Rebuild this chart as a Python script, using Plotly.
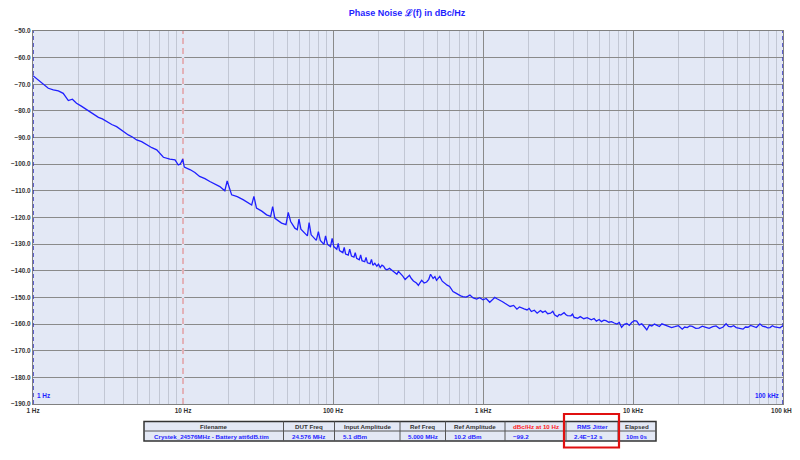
import plotly.graph_objects as go

# ---------------- data ----------------
freq_hz = [
    1.00, 1.085, 1.17, 1.265, 1.366, 1.475, 1.59, 1.72, 1.83, 1.95, 2.1, 2.28, 2.5, 2.73, 2.9, 3.10, 3.35, 3.61,
    3.95, 4.32, 4.6, 4.91, 5.3, 5.73, 6.2, 6.68, 7.0, 7.4, 8.17, 8.85, 9.3, 9.6, 9.96, 10.2, 11.2, 12.0, 12.9, 14.0, 15.1,
    16.3, 17.6, 19.0, 19.7, 21.1, 23.0, 25.3, 27.0, 28.7, 29.7, 30.9, 33.5, 36.1, 38.4, 39.6, 41.0, 45.4, 48.6,
    50.3, 52.2, 55.7, 57.8, 59.3, 61.1, 66.1, 67.5, 69.3, 71.5, 76.0, 77.4, 79.9, 82.3,
    87.0, 89.2, 91.9, 96.2, 98.7, 101.2, 106, 108.4, 110.5, 116.3, 118.8, 121.3, 126.4,
    129.2, 132.8, 137.9, 140.7, 143.8, 149.7, 152.9, 156.1, 162.7, 166.1, 169.6, 176.8,
    180.5, 184.3, 190, 196.0, 201, 206.5, 212, 217.4, 223, 228.8, 238, 247, 257, 266.6, 273, 280.6, 292,
    302.6, 312, 323.4, 333, 343.7, 360, 371, 380, 390, 405, 421, 435, 447, 465, 478, 490, 503, 515, 535, 555, 577,
    599, 631, 655, 680, 710, 735, 770, 795, 818, 860, 908, 950, 1000, 1050, 1109, 1150, 1197, 1240, 1292, 1350,
    1400, 1460, 1517, 1600, 1683, 1750, 1800, 1880, 1967, 2030, 2100, 2200, 2296, 2416, 2500, 2600, 2700, 2821,
    2920, 3000, 3130, 3220, 3300, 3470, 3560, 3650, 3854, 3950, 4050, 4276, 4450, 4700, 4950, 5275, 5500, 5700,
    5950, 6158, 6400, 6600, 6900, 7189, 7500, 7800, 8100, 8393, 8750, 9100, 9450, 9798, 10200, 10590, 11000,
    11440, 11900, 12360, 12850, 13350, 13900, 14400, 15000, 15580, 16400, 17290, 18100, 19000, 20100, 21300, 22100,
    23000, 23900, 24860, 26200, 27500, 29000, 30610, 32200, 34000, 35800, 37730, 39700, 41750, 43300, 45000,
    46900, 48780, 51400, 54120, 56200, 58500, 60800, 63230, 66500, 70140, 73000, 76000, 79000, 81900, 85000,
    88000, 91800, 95600, 98000, 100000,
]
phase_noise_dbc = [
    -66.8, -68.4, -69.9, -71.5, -72.1, -72.5, -73.4, -76.1, -75.6, -77.1, -78.2, -79.6, -80.9, -82.4, -83.0, -84.0, -85.1, -85.9,
    -87.6, -89.0, -89.8, -90.9, -91.5, -92.8, -93.8, -94.6, -95.8, -97.4, -98.1, -98.4, -100.3, -99.9, -98.1, -101.1, -102.1, -103.1, -104.6, -105.4, -106.5,
    -107.5, -108.4, -110.0, -106.3, -111.5, -112.2, -113.4, -114.5, -115.3, -112.1, -116.5, -117.6, -119.0, -119.6, -115.9, -120.3, -122.1, -122.7,
    -118.1, -121.5, -124.0, -124.6, -120.6, -124.4, -126.5, -126.9, -121.9, -126.5, -128.1, -128.6, -125.3, -128.6,
    -130.1, -126.9, -130.1, -130.9, -127.8, -130.9, -131.9, -129.7, -132.4, -133.2, -131.2, -133.7, -134.1,
    -131.9, -134.5, -134.9, -133.2, -135.3, -135.9, -134.0, -136.2, -136.6, -135.0, -137.0, -137.3,
    -135.7, -137.9, -137.2, -138.3, -137.5, -138.8, -137.9, -138.3, -139.3, -139.6, -139.1, -139.8, -140.6, -141.3, -140.2, -140.8, -142.0,
    -143.3, -142.4, -141.7, -142.9, -143.8, -144.6, -145.5, -144.5, -143.6, -144.6, -144.2, -143.2, -141.3, -142.9, -142.2, -143.6, -142.7, -142.1, -143.9, -144.8, -145.4,
    -145.9, -147.8, -148.3, -148.9, -149.4, -149.7, -149.9, -149.5, -149.1, -150.2, -150.6, -150.1, -150.9, -150.4, -151.8, -151.0, -150.0, -150.5, -150.9, -151.6,
    -152.2, -152.8, -153.4, -153.0, -154.4, -153.6, -154.0, -154.3, -154.7, -154.1, -155.3, -154.8, -155.9, -154.9, -155.6, -155.1, -156.1, -155.9,
    -155.2, -156.5, -157.2, -156.4, -156.6, -155.7, -156.4, -156.8, -156.9, -156.3, -157.5, -157.8, -157.2, -158.0, -157.6, -158.4, -157.9, -158.9,
    -158.3, -159.1, -158.5, -158.7, -159.3, -159.1, -159.6, -160.0, -159.4, -161.2, -160.1, -159.8, -160.5, -159.4, -158.7, -158.9, -160.3,
    -159.9, -161.0, -162.2, -160.4, -160.7, -160.0, -160.3, -160.9, -159.9, -160.4, -160.7, -161.3, -161.0, -160.6, -161.9, -161.1,
    -161.3, -160.7, -160.9, -161.6, -161.5, -160.8, -161.2, -161.6, -161.0, -160.7, -161.7, -161.2, -159.9, -160.9, -161.0,
    -160.6, -161.3, -161.6, -161.9, -161.1, -161.2, -160.5, -160.9, -161.3, -159.9, -160.8, -161.0, -161.4, -161.3, -160.6,
    -161.1, -161.4, -161.4, -160.9, -160.7,
]

x_tick_vals = [1, 10, 100, 1000, 10000, 100000]
x_tick_text = ["1 Hz", "10 Hz", "100 Hz", "1 kHz", "10 kHz", "100 kHz"]
y_ticks = [-50, -60, -70, -80, -90, -100, -110, -120, -130, -140, -150, -160, -170, -180, -190]

marker_10hz = [10, 10]
edge_start = [1, 1]
edge_stop = [100000, 100000]
marker_span = [-190, -50]

table_headers = ["Filename", "DUT Freq", "Input Amplitude", "Ref Freq", "Ref Amplitude",
                 "dBc/Hz at 10 Hz", "RMS Jitter", "Elapsed"]
table_values = ["Crystek_24576MHz - Battery att6dB.tim", "24.576 MHz", "5.1 dBm", "5.000 MHz",
                "10.2 dBm", "\u221299.2", "2.4E\u221212 s", "10m 0s"]

# ---------------- layout helpers ----------------
# the page body adds an 8px margin, so the figure is laid out 8px up/left of page coordinates
OFF = 8
W, H = 800 - OFF, 460 - 2 * OFF
PW, PH = 750, 373
L, T = 33 - OFF, 31 - OFF
R, B = W - L - PW, H - T - PH


def px(xp):
    return (xp - OFF - L) / PW


def py(yp):
    return (T + PH - (yp - OFF)) / PH


BLUE = "#1f1fff"
BG = "#e3e8f5"
FONT = "Liberation Sans, Arial, sans-serif"
TICK = 6.4
TAB = 6.2

fig = go.Figure()

# cover the decade grid line under the 10 Hz marker, then the pink dashed marker
fig.add_trace(go.Scatter(x=marker_10hz, y=marker_span, mode="lines",
                         line=dict(color=BG, width=2.5),
                         hoverinfo="skip", showlegend=False))
fig.add_trace(go.Scatter(x=marker_10hz, y=marker_span, mode="lines",
                         line=dict(color="#e27a7a", width=1, dash="6px,4px"),
                         hoverinfo="skip", showlegend=False))
fig.add_trace(go.Scatter(x=edge_start, y=marker_span, mode="lines",
                         line=dict(color="#3535c0", width=1.5, dash="4px,3px"),
                         hoverinfo="skip", showlegend=False))
fig.add_trace(go.Scatter(x=edge_stop, y=marker_span, mode="lines",
                         line=dict(color="#3535c0", width=1.5, dash="4px,3px"),
                         hoverinfo="skip", showlegend=False))
fig.add_trace(go.Scatter(x=freq_hz, y=phase_noise_dbc, mode="lines",
                         line=dict(color=BLUE, width=1.3), showlegend=False))

fig.update_layout(
    width=W, height=H,
    margin=dict(l=L, r=R, t=T, b=B, autoexpand=False),
    paper_bgcolor="white",
    plot_bgcolor=BG,
    font=dict(family=FONT, size=7, color="#333"),
    title=dict(text="Phase Noise \u2112(f) in dBc/Hz", x=(407 - OFF) / W, xref="container",
               y=1 - (13 - OFF) / H, yref="container", yanchor="middle", xanchor="center",
               font=dict(family=FONT, size=9, color=BLUE, weight="bold")),
    showlegend=False,
)

fig.update_xaxes(
    type="log", range=[0, 5], automargin=False,
    tickmode="array", tickvals=x_tick_vals, ticktext=x_tick_text,
    tickfont=dict(family=FONT, size=TICK, color="#333", weight="bold"),
    ticks="", ticklen=0, ticklabeloverflow="allow",
    showgrid=True, gridcolor="#8a8a8a", gridwidth=1,
    minor=dict(dtick="D1", showgrid=True, gridcolor="#c2c7d4", gridwidth=1, ticks=""),
    showline=True, linecolor="#808080", linewidth=1.2, mirror=True,
    zeroline=False,
)
fig.update_yaxes(
    range=[-190, -50], automargin=False,
    tickmode="array", tickvals=y_ticks, tickformat=".1f",
    tickfont=dict(family=FONT, size=TICK, color="#333", weight="bold"),
    ticks="", ticklen=0,
    showgrid=True, gridcolor="#8a8a8a", gridwidth=1,
    showline=True, linecolor="#808080", linewidth=1.2, mirror=True,
    zeroline=False,
)

# in-plot labels
fig.add_annotation(x=px(35), y=py(395), xref="paper", yref="paper", text="1 Hz", showarrow=False,
                   xanchor="left", yanchor="middle", font=dict(family=FONT, size=TICK, color=BLUE, weight="bold"))
fig.add_annotation(x=px(781), y=py(395), xref="paper", yref="paper", text="100 kHz", showarrow=False,
                   xanchor="right", yanchor="middle", font=dict(family=FONT, size=TICK, color=BLUE, weight="bold"))

# ---------------- info table ----------------
col_edges = [144, 283.5, 334.5, 400, 445.5, 505, 566, 618, 656]
row_top, row_mid, row_bot = 421.5, 431, 441

fig.add_shape(type="rect", xref="paper", yref="paper",
              x0=px(col_edges[0]), x1=px(col_edges[-1]), y0=py(row_bot), y1=py(row_top),
              fillcolor=BG, line=dict(color="#333", width=1.5), layer="below")
fig.add_shape(type="line", xref="paper", yref="paper",
              x0=px(col_edges[0]), x1=px(col_edges[-1]), y0=py(row_mid), y1=py(row_mid),
              line=dict(color="#555", width=1))
for xe in col_edges[1:-1]:
    fig.add_shape(type="line", xref="paper", yref="paper",
                  x0=px(xe), x1=px(xe), y0=py(row_bot), y1=py(row_top),
                  line=dict(color="#555", width=1))

for i, (hd, val) in enumerate(zip(table_headers, table_values)):
    c0, c1 = col_edges[i], col_edges[i + 1]
    hcol = "#ff2020" if i == 5 else (BLUE if i == 6 else "#333")
    fig.add_annotation(x=px((c0 + c1) / 2), y=py((row_top + row_mid) / 2), xref="paper", yref="paper",
                       text=hd, showarrow=False, xanchor="center", yanchor="middle",
                       font=dict(family=FONT, size=TAB, color=hcol, weight="bold"))
    fig.add_annotation(x=px(c0 + 6 + (2 if i == 0 else 0)), y=py((row_mid + row_bot) / 2), xref="paper", yref="paper",
                       text=val, showarrow=False, xanchor="left", yanchor="middle",
                       font=dict(family=FONT, size=TAB, color=BLUE, weight="bold"))

# red highlight box around RMS Jitter
fig.add_shape(type="rect", xref="paper", yref="paper",
              x0=px(564), x1=px(619), y0=py(447.5), y1=py(414),
              line=dict(color="#e01010", width=2.2), fillcolor="rgba(0,0,0,0)")

fig.write_html("out.html")
